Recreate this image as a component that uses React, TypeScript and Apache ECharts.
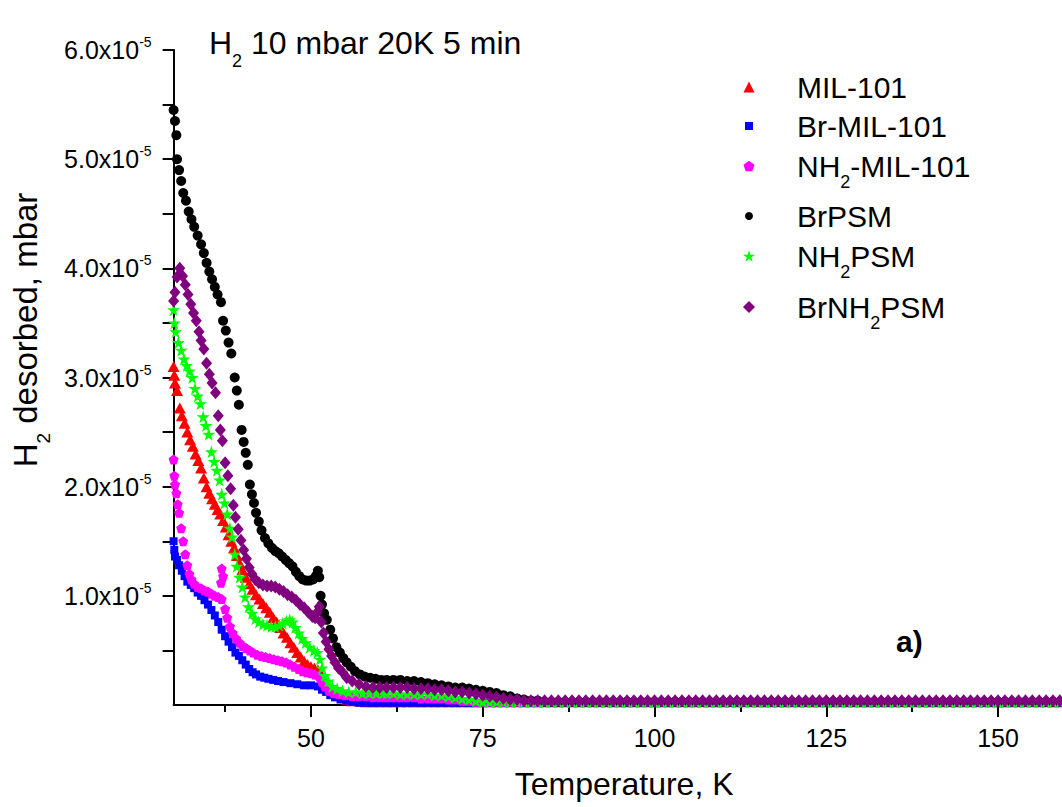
import { useEffect, useRef } from 'react';
import * as echarts from 'echarts';

const FONT = '"Liberation Sans", Arial, Helvetica, sans-serif';

// ---------- data (values in units of 1e-5 mbar) ----------
const seriesNames = ['MIL-101', 'Br-MIL-101', 'NH2-MIL-101', 'BrPSM', 'NH2PSM', 'BrNH2PSM'];
const seriesColors = ['#ff0000', '#0000ff', '#ff00ff', '#000000', '#00ff00', '#800080'];

const xMajorTicks = [50, 75, 100, 125, 150];
const xMinorTicks = [37.5, 62.5, 87.5, 112.5, 137.5];
const yTickValues = [0.5, 1, 1.5, 2, 2.5, 3, 3.5, 4, 4.5, 5, 5.5, 6];
const yLabelValues = [1, 2, 3, 4, 5, 6];
const yTickLabels = ['1.0x10', '2.0x10', '3.0x10', '4.0x10', '5.0x10', '6.0x10'];

const milHead = [
  [30.0, 3.1], [30.1, 3.02], [30.2, 2.95], [30.5, 2.88], [30.9, 2.72], [31.2, 2.65], [31.6, 2.58], [32.0, 2.5],
  [32.4, 2.43], [32.8, 2.37], [33.2, 2.3], [33.6, 2.24], [34.0, 2.17], [34.4, 2.08], [34.8, 2.0], [35.2, 1.94],
  [35.6, 1.89], [36.0, 1.84], [36.4, 1.79], [36.8, 1.75], [37.2, 1.69], [37.6, 1.63], [38.0, 1.56], [38.4, 1.5],
  [38.8, 1.44], [39.2, 1.37], [39.6, 1.3], [40.0, 1.24], [40.5, 1.17], [41.0, 1.11], [41.5, 1.06], [42.0, 1.01],
  [42.5, 0.97], [43.0, 0.93], [43.5, 0.89], [44.0, 0.85], [44.5, 0.8], [45.0, 0.76], [45.5, 0.71], [46.0, 0.66],
  [46.5, 0.62], [47.0, 0.57], [47.5, 0.53], [48.0, 0.48], [48.5, 0.44], [49.0, 0.4], [49.5, 0.37], [50.0, 0.35],
  [50.5, 0.34], [51.0, 0.32], [51.5, 0.28], [52.0, 0.23], [52.5, 0.18], [53.0, 0.14], [53.5, 0.11], [54.0, 0.09],
  [54.6, 0.07], [55.3, 0.05], [56.0, 0.04], [57.0, 0.04], [58.0, 0.03], [59.0, 0.03], [60.0, 0.03], [61.0, 0.03],
];
const brMilHead = [
  [30.0, 1.5], [30.1, 1.42], [30.2, 1.36], [30.5, 1.33], [30.8, 1.28], [31.2, 1.23], [31.6, 1.18], [32.0, 1.13],
  [32.5, 1.1], [33.0, 1.07], [33.5, 1.03], [34.0, 1.0], [34.5, 0.96], [35.0, 0.92], [35.5, 0.87], [36.0, 0.82],
  [36.5, 0.76], [37.0, 0.69], [37.5, 0.63], [38.0, 0.58], [38.5, 0.53], [39.0, 0.48], [39.5, 0.45], [40.0, 0.41],
  [40.5, 0.37], [41.0, 0.33], [41.5, 0.3], [42.0, 0.28], [42.6, 0.26], [43.2, 0.25], [43.8, 0.24], [44.5, 0.23],
  [45.2, 0.22], [46.0, 0.21], [47.0, 0.2], [48.0, 0.19], [49.0, 0.18], [50.0, 0.18], [51.0, 0.17], [51.6, 0.14],
  [52.2, 0.12], [52.8, 0.09], [53.5, 0.07], [54.3, 0.05], [55.2, 0.04], [56.0, 0.03], [57.0, 0.02], [58.0, 0.02],
  [59.0, 0.02], [60.0, 0.02], [61.0, 0.02],
];
const nh2MilHead = [
  [30.0, 2.25], [30.1, 2.1], [30.2, 2.02], [30.4, 1.94], [30.6, 1.84], [30.8, 1.76], [31.1, 1.62], [31.4, 1.5],
  [31.7, 1.38], [32.0, 1.28], [32.3, 1.2], [32.6, 1.15], [33.0, 1.11], [33.5, 1.08], [34.0, 1.07], [34.5, 1.05],
  [35.0, 1.04], [35.5, 1.02], [36.0, 1.0], [36.5, 0.99], [37.0, 0.97], [36.9, 1.12], [37.0, 1.25], [37.2, 1.18],
  [37.5, 0.88], [37.8, 0.8], [38.2, 0.72], [38.6, 0.66], [39.1, 0.61], [39.6, 0.57], [40.1, 0.54], [40.6, 0.52],
  [41.1, 0.5], [41.6, 0.48], [42.2, 0.46], [42.8, 0.45], [43.4, 0.44], [44.0, 0.43], [44.6, 0.42], [45.2, 0.41],
  [45.8, 0.4], [46.4, 0.39], [47.0, 0.37], [47.6, 0.35], [48.2, 0.33], [48.8, 0.31], [49.4, 0.3], [50.0, 0.29],
  [50.6, 0.28], [51.2, 0.26], [51.6, 0.21], [52.0, 0.17], [52.6, 0.13], [53.3, 0.11], [54.0, 0.1], [55.0, 0.09],
  [56.0, 0.08], [57.0, 0.08], [58.0, 0.08], [59.0, 0.07], [60.0, 0.07], [61.0, 0.07],
];
const brPsmHead = [
  [30.0, 5.45], [30.2, 5.35], [30.4, 5.22], [30.5, 5.0], [30.8, 4.9], [31.1, 4.8], [31.4, 4.69], [31.8, 4.62],
  [32.2, 4.52], [32.6, 4.45], [33.0, 4.38], [33.5, 4.3], [34.0, 4.22], [34.4, 4.14], [34.8, 4.05], [35.2, 3.97],
  [35.6, 3.9], [36.0, 3.83], [36.4, 3.76], [36.9, 3.69], [37.2, 3.52], [37.6, 3.43], [38.0, 3.32], [38.4, 3.22],
  [38.9, 3.0], [39.2, 2.88], [39.5, 2.75], [39.9, 2.52], [40.2, 2.41], [40.5, 2.31], [40.8, 2.2], [41.1, 2.02],
  [41.4, 1.93], [41.7, 1.85], [42.0, 1.76], [42.4, 1.68], [42.8, 1.6], [43.3, 1.53], [43.8, 1.48], [44.3, 1.44],
  [44.8, 1.41], [45.3, 1.39], [45.8, 1.36], [46.3, 1.33], [46.8, 1.3], [47.3, 1.27], [47.8, 1.22], [48.3, 1.18],
  [48.8, 1.15], [49.3, 1.14], [49.8, 1.14], [50.3, 1.15], [50.7, 1.18], [51.0, 1.23], [51.2, 1.17], [51.4, 1.0],
  [51.6, 0.92], [51.9, 0.84], [52.3, 0.78], [52.8, 0.69], [53.2, 0.61], [53.7, 0.53], [54.2, 0.48], [54.7, 0.43],
  [55.2, 0.39], [55.8, 0.35], [56.4, 0.31], [57.1, 0.28], [57.8, 0.26], [58.6, 0.25], [59.4, 0.24], [60.2, 0.23],
  [61.0, 0.23],
];
const nh2PsmHead = [
  [30.0, 3.62], [30.1, 3.5], [30.3, 3.42], [30.7, 3.32], [31.1, 3.25], [31.5, 3.17], [31.9, 3.11], [32.3, 3.06],
  [32.7, 3.0], [33.1, 2.9], [33.5, 2.83], [33.9, 2.76], [34.3, 2.64], [34.7, 2.56], [35.1, 2.48], [35.5, 2.32],
  [35.9, 2.23], [36.3, 2.15], [36.7, 2.06], [37.0, 1.93], [37.4, 1.85], [37.8, 1.75], [38.2, 1.62], [38.5, 1.54],
  [38.9, 1.38], [39.2, 1.27], [39.6, 1.17], [40.0, 1.08], [40.4, 0.99], [40.9, 0.9], [41.4, 0.84], [41.9, 0.79],
  [42.4, 0.76], [43.0, 0.74], [43.6, 0.73], [44.2, 0.72], [44.8, 0.72], [45.4, 0.73], [45.9, 0.75], [46.4, 0.77],
  [46.9, 0.78], [47.3, 0.76], [47.7, 0.71], [48.2, 0.66], [48.7, 0.61], [49.2, 0.57], [49.8, 0.53], [50.4, 0.5],
  [50.9, 0.48], [51.3, 0.42], [51.6, 0.34], [52.0, 0.27], [52.5, 0.22], [53.1, 0.17], [53.8, 0.15], [54.6, 0.13],
  [55.5, 0.12], [56.5, 0.12], [57.5, 0.11], [58.5, 0.11], [59.5, 0.11], [60.5, 0.11], [61.0, 0.11],
];
const brNh2PsmHead = [
  [30.0, 3.7], [30.2, 3.78], [30.5, 3.92], [30.9, 4.0], [31.3, 3.93], [31.7, 3.85], [32.1, 3.76], [32.5, 3.67],
  [32.9, 3.59], [33.3, 3.52], [33.7, 3.42], [34.0, 3.34], [34.4, 3.26], [34.8, 3.13], [35.2, 3.03], [35.6, 2.95],
  [36.1, 2.86], [36.5, 2.65], [36.8, 2.52], [37.1, 2.42], [37.5, 2.22], [37.9, 2.1], [38.3, 1.98], [38.7, 1.83],
  [39.0, 1.72], [39.4, 1.61], [39.8, 1.51], [40.2, 1.42], [40.6, 1.34], [41.0, 1.26], [41.4, 1.2], [41.9, 1.15],
  [42.4, 1.12], [43.0, 1.1], [43.6, 1.09], [44.2, 1.09], [44.8, 1.08], [45.4, 1.06], [46.0, 1.04], [46.6, 1.01],
  [47.2, 0.99], [47.8, 0.96], [48.4, 0.92], [49.0, 0.89], [49.6, 0.85], [50.2, 0.81], [50.6, 0.8], [50.9, 0.85],
  [51.2, 0.9], [51.5, 0.76], [51.8, 0.66], [52.2, 0.58], [52.6, 0.51], [53.0, 0.45], [53.5, 0.39], [54.0, 0.34],
  [54.6, 0.3], [55.2, 0.25], [56.0, 0.22], [57.0, 0.19], [58.0, 0.17], [59.0, 0.16], [60.0, 0.16], [61.0, 0.16],
];

const tailTemps = [
  62, 63, 64, 65, 66, 67, 68, 69, 70, 71, 72, 73, 74, 75, 76, 77, 78, 79, 80, 81,
  82, 83, 84, 85, 86, 87, 88, 89, 90, 91, 92, 93, 94, 95, 96, 97, 98, 99, 100, 101,
  102, 103, 104, 105, 106, 107, 108, 109, 110, 111, 112, 113, 114, 115, 116, 117, 118, 119, 120, 121,
  122, 123, 124, 125, 126, 127, 128, 129, 130, 131, 132, 133, 134, 135, 136, 137, 138, 139, 140, 141,
  142, 143, 144, 145, 146, 147, 148, 149, 150, 151, 152, 153, 154, 155, 156, 157, 158, 159, 160,
];
const milTail = [
  0.03, 0.03, 0.03, 0.03, 0.03, 0.03, 0.03, 0.03, 0.03, 0.03, 0.03, 0.03, 0.03, 0.03, 0.03, 0.03, 0.03, 0.03, 0.03, 0.03,
  0.03, 0.03, 0.03, 0.03, 0.03, 0.03, 0.03, 0.03, 0.03, 0.03, 0.03, 0.03, 0.03, 0.03, 0.03, 0.03, 0.03, 0.03, 0.03, 0.03,
  0.03, 0.03, 0.03, 0.03, 0.03, 0.03, 0.03, 0.03, 0.03, 0.03, 0.03, 0.03, 0.03, 0.03, 0.03, 0.03, 0.03, 0.03, 0.03, 0.03,
  0.03, 0.03, 0.03, 0.03, 0.03, 0.03, 0.03, 0.03, 0.03, 0.03, 0.03, 0.03, 0.03, 0.03, 0.03, 0.03, 0.03, 0.03, 0.03, 0.03,
  0.03, 0.03, 0.03, 0.03, 0.03, 0.03, 0.03, 0.03, 0.03, 0.03, 0.03, 0.03, 0.03, 0.03, 0.03, 0.03, 0.03, 0.03, 0.03,
];
const brMilTail = [
  0.02, 0.02, 0.02, 0.02, 0.02, 0.02, 0.02, 0.02, 0.02, 0.02, 0.02, 0.02, 0.02, 0.02, 0.02, 0.02, 0.02, 0.02, 0.02, 0.02,
  0.02, 0.02, 0.02, 0.02, 0.02, 0.02, 0.02, 0.02, 0.02, 0.02, 0.02, 0.02, 0.02, 0.02, 0.02, 0.02, 0.02, 0.02, 0.02, 0.02,
  0.02, 0.02, 0.02, 0.02, 0.02, 0.02, 0.02, 0.02, 0.02, 0.02, 0.02, 0.02, 0.02, 0.02, 0.02, 0.02, 0.02, 0.02, 0.02, 0.02,
  0.02, 0.02, 0.02, 0.02, 0.02, 0.02, 0.02, 0.02, 0.02, 0.02, 0.02, 0.02, 0.02, 0.02, 0.02, 0.02, 0.02, 0.02, 0.02, 0.02,
  0.02, 0.02, 0.02, 0.02, 0.02, 0.02, 0.02, 0.02, 0.02, 0.02, 0.02, 0.02, 0.02, 0.02, 0.02, 0.02, 0.02, 0.02, 0.02,
];
const nh2MilTail = [
  0.07, 0.07, 0.07, 0.07, 0.06, 0.06, 0.06, 0.06, 0.05, 0.05, 0.04, 0.04, 0.03, 0.03, 0.03, 0.03, 0.03, 0.03, 0.03, 0.03,
  0.03, 0.03, 0.03, 0.03, 0.03, 0.03, 0.03, 0.03, 0.03, 0.03, 0.03, 0.03, 0.03, 0.03, 0.03, 0.03, 0.03, 0.03, 0.03, 0.03,
  0.03, 0.03, 0.03, 0.03, 0.03, 0.03, 0.03, 0.03, 0.03, 0.03, 0.03, 0.03, 0.03, 0.03, 0.03, 0.03, 0.03, 0.03, 0.03, 0.03,
  0.03, 0.03, 0.03, 0.03, 0.03, 0.03, 0.03, 0.03, 0.03, 0.03, 0.03, 0.03, 0.03, 0.03, 0.03, 0.03, 0.03, 0.03, 0.03, 0.03,
  0.03, 0.03, 0.03, 0.03, 0.03, 0.03, 0.03, 0.03, 0.03, 0.03, 0.03, 0.03, 0.03, 0.03, 0.03, 0.03, 0.03, 0.03, 0.03,
];
const brPsmTail = [
  0.23, 0.23, 0.22, 0.22, 0.21, 0.2, 0.19, 0.18, 0.17, 0.16, 0.16, 0.15, 0.14, 0.13, 0.12, 0.11, 0.09, 0.08, 0.06, 0.05,
  0.04, 0.04, 0.03, 0.03, 0.03, 0.03, 0.03, 0.03, 0.03, 0.03, 0.03, 0.03, 0.03, 0.03, 0.03, 0.03, 0.03, 0.03, 0.03, 0.03,
  0.03, 0.03, 0.03, 0.03, 0.03, 0.03, 0.03, 0.03, 0.03, 0.03, 0.03, 0.03, 0.03, 0.03, 0.03, 0.03, 0.03, 0.03, 0.03, 0.03,
  0.03, 0.03, 0.03, 0.03, 0.03, 0.03, 0.03, 0.03, 0.03, 0.03, 0.03, 0.03, 0.03, 0.03, 0.03, 0.03, 0.03, 0.03, 0.03, 0.03,
  0.03, 0.03, 0.03, 0.03, 0.03, 0.03, 0.03, 0.03, 0.03, 0.03, 0.03, 0.03, 0.03, 0.03, 0.03, 0.03, 0.03, 0.03, 0.03,
];
const nh2PsmTail = [
  0.11, 0.1, 0.1, 0.1, 0.1, 0.1, 0.09, 0.09, 0.08, 0.07, 0.06, 0.05, 0.04, 0.03, 0.03, 0.03, 0.03, 0.03, 0.03, 0.03,
  0.03, 0.03, 0.03, 0.03, 0.03, 0.03, 0.03, 0.03, 0.03, 0.03, 0.03, 0.03, 0.03, 0.03, 0.03, 0.03, 0.03, 0.03, 0.03, 0.03,
  0.03, 0.03, 0.03, 0.03, 0.03, 0.03, 0.03, 0.03, 0.03, 0.03, 0.03, 0.03, 0.03, 0.03, 0.03, 0.03, 0.03, 0.03, 0.03, 0.03,
  0.03, 0.03, 0.03, 0.03, 0.03, 0.03, 0.03, 0.03, 0.03, 0.03, 0.03, 0.03, 0.03, 0.03, 0.03, 0.03, 0.03, 0.03, 0.03, 0.03,
  0.03, 0.03, 0.03, 0.03, 0.03, 0.03, 0.03, 0.03, 0.03, 0.03, 0.03, 0.03, 0.03, 0.03, 0.03, 0.03, 0.03, 0.03, 0.03,
];
const brNh2PsmTail = [
  0.16, 0.16, 0.16, 0.15, 0.15, 0.15, 0.14, 0.14, 0.13, 0.12, 0.12, 0.11, 0.1, 0.09, 0.08, 0.07, 0.06, 0.05, 0.05, 0.04,
  0.04, 0.04, 0.04, 0.04, 0.04, 0.04, 0.04, 0.04, 0.04, 0.04, 0.04, 0.04, 0.04, 0.04, 0.04, 0.04, 0.04, 0.04, 0.04, 0.04,
  0.04, 0.04, 0.04, 0.04, 0.04, 0.04, 0.04, 0.04, 0.04, 0.04, 0.04, 0.04, 0.04, 0.04, 0.04, 0.04, 0.04, 0.04, 0.04, 0.04,
  0.04, 0.04, 0.04, 0.04, 0.04, 0.04, 0.04, 0.04, 0.04, 0.04, 0.04, 0.04, 0.04, 0.04, 0.04, 0.04, 0.04, 0.04, 0.04, 0.04,
  0.04, 0.04, 0.04, 0.04, 0.04, 0.04, 0.04, 0.04, 0.04, 0.04, 0.04, 0.04, 0.04, 0.04, 0.04, 0.04, 0.04, 0.04, 0.04,
];

const heads = [milHead, brMilHead, nh2MilHead, brPsmHead, nh2PsmHead, brNh2PsmHead];
const tails = [milTail, brMilTail, nh2MilTail, brPsmTail, nh2PsmTail, brNh2PsmTail];

// ---------- styles ----------
const STAR = 'path://M50,0L61,35L98,35L68,57L79,91L50,70L21,91L32,57L2,35L39,35Z';
const PENTAGON = 'path://M50,0L98,35L79,91L21,91L2,35Z';
const symbols = ['triangle', 'rect', PENTAGON, 'circle', STAR, 'diamond'];
const symbolSizes: any[] = [[12, 11], 8, 10, 10, 13, [11, 13]];

const legendRich: Record<string, string> = {
  'MIL-101': '{n|MIL-101}',
  'Br-MIL-101': '{n|Br-MIL-101}',
  'NH2-MIL-101': '{n|NH}{s|2}{n|-MIL-101}',
  BrPSM: '{n|BrPSM}',
  NH2PSM: '{n|NH}{s|2}{n|PSM}',
  BrNH2PSM: '{n|BrNH}{s|2}{n|PSM}',
};
const legendIconCenters = [88, 127, 167, 217, 257, 308];
const legendIconSizes = [11, 8, 11, 8, 12, 12];
const LEGEND_ICON_X = 749;
const LEGEND_TEXT_X = 797;

export default function App() {
  const ref = useRef<HTMLDivElement>(null);
  useEffect(() => {
    if (!ref.current) return;
    const chart = echarts.init(ref.current, undefined, { renderer: 'svg' });

    const grid = { left: 173.6, right: -4.7, top: 50, bottom: 102, containLabel: false, outerBoundsMode: 'none' };

    const series = seriesNames.map((name, i) => ({
      name,
      type: 'scatter',
      xAxisIndex: 0,
      yAxisIndex: 0,
      symbol: symbols[i],
      symbolSize: symbolSizes[i],
      itemStyle: { color: seriesColors[i], opacity: 1 },
      data: heads[i].concat(tailTemps.map((t, k) => [t, tails[i][k]])),
      z: 2 + i,
    }));

    const subRich = {
      n: { fontSize: 30, lineHeight: 32, fontFamily: FONT, color: '#000' },
      s: { fontSize: 18, fontFamily: FONT, color: '#000', padding: [32, 0, 0, 0] },
    };

    const legends = seriesNames.map((name, i) => {
      const w = legendIconSizes[i];
      const left = LEGEND_ICON_X - w / 2;
      return {
        data: [name],
        orient: 'vertical',
        left,
        top: legendIconCenters[i] - 16,
        padding: 0,
        itemWidth: w,
        itemHeight: w,
        selectedMode: false,
        formatter: (n: string) => legendRich[n],
        textStyle: {
          fontSize: 30,
          fontFamily: FONT,
          color: '#000',
          padding: [0, 0, 0, LEGEND_TEXT_X - (left + w + 5)],
          rich: subRich,
        },
      };
    });

    const option: any = {
      animation: false,
      backgroundColor: '#ffffff',
      textStyle: { fontFamily: FONT },
      grid: [grid, { ...grid }],
      legend: legends,
      xAxis: [
        {
          type: 'value',
          gridIndex: 0,
          min: 30,
          max: 160,
          name: 'Temperature, K',
          nameLocation: 'middle',
          nameGap: 63,
          nameTextStyle: { fontSize: 32, fontFamily: FONT, color: '#000', padding: [0, 0, 0, 8] },
          axisLine: { show: true, onZero: false, lineStyle: { color: '#000', width: 2 } },
          axisTick: { show: true, length: 12, customValues: xMajorTicks, lineStyle: { color: '#000', width: 2 } },
          axisLabel: { customValues: xMajorTicks, fontSize: 25, fontFamily: FONT, color: '#000', margin: 20 },
          splitLine: { show: false },
        },
        {
          type: 'value',
          gridIndex: 1,
          min: 30,
          max: 160,
          axisLine: { show: false },
          axisTick: { show: true, length: 7, customValues: xMinorTicks, lineStyle: { color: '#000', width: 2 } },
          axisLabel: { show: false },
          splitLine: { show: false },
        },
      ],
      yAxis: [
        {
          type: 'value',
          gridIndex: 0,
          min: 0,
          max: 6,
          axisLine: { show: true, onZero: false, lineStyle: { color: '#000', width: 2 } },
          axisTick: { show: true, length: 11, customValues: yTickValues, lineStyle: { color: '#000', width: 2 } },
          axisLabel: {
            customValues: yLabelValues,
            margin: 22,
            formatter: (v: number) => {
              const idx = yLabelValues.indexOf(Math.round(v * 100) / 100);
              return idx >= 0 ? `{a|${yTickLabels[idx]}}{b|-5}` : '';
            },
            rich: {
              a: { fontSize: 25, lineHeight: 30, fontFamily: FONT, color: '#000' },
              b: { fontSize: 14, fontFamily: FONT, color: '#000', verticalAlign: 'top' },
            },
          },
          splitLine: { show: false },
        },
        { type: 'value', gridIndex: 1, min: 0, max: 6, show: false },
      ],
      graphic: [
        {
          type: 'text',
          x: 209,
          y: 43,
          style: {
            text: '{n|H}{s|2}{n| 10 mbar 20K 5 min}',
            align: 'left',
            verticalAlign: 'middle',
            fontFamily: FONT,
            fontSize: 32,
            fill: '#000',
            rich: {
              n: { fontSize: 32, lineHeight: 34, fontFamily: FONT, fill: '#000' },
              s: { fontSize: 18, fontFamily: FONT, fill: '#000', padding: [36, 0, 0, 0] },
            },
          },
        },
        {
          type: 'text',
          x: 25,
          y: 330,
          rotation: Math.PI / 2,
          style: {
            text: '{n|H}{s|2}{n| desorbed, mbar}',
            align: 'center',
            verticalAlign: 'middle',
            fontFamily: FONT,
            fontSize: 33,
            fill: '#000',
            rich: {
              n: { fontSize: 33, lineHeight: 34, fontFamily: FONT, fill: '#000' },
              s: { fontSize: 19, fontFamily: FONT, fill: '#000', padding: [36, 0, 0, 0] },
            },
          },
        },
        {
          type: 'text',
          x: 896,
          y: 641,
          style: {
            text: 'a)',
            align: 'left',
            verticalAlign: 'middle',
            fontFamily: FONT,
            fontSize: 30,
            fontWeight: 'bold',
            fill: '#000',
          },
        },
      ],
      series,
    };

    chart.setOption(option);
    return () => chart.dispose();
  }, []);

  return (
    <div
      ref={ref}
      style={{ position: 'fixed', left: 0, top: 0, width: 1062, height: 807, background: '#fff' }}
    />
  );
}
